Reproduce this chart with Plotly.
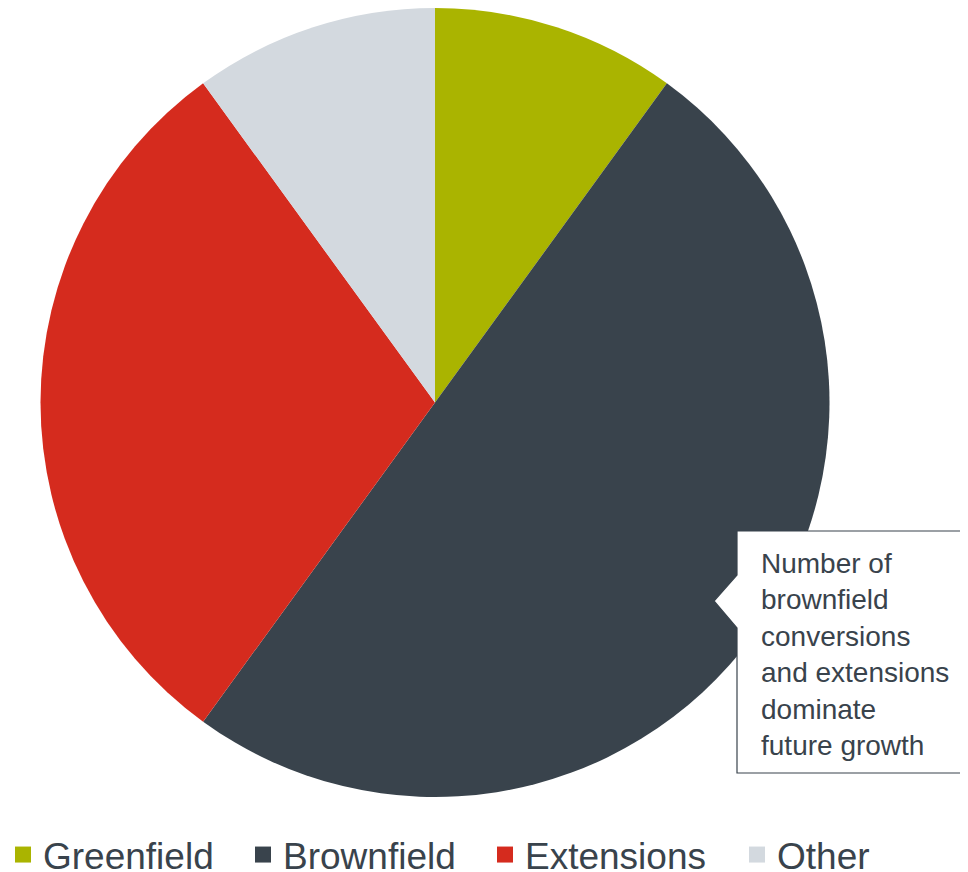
import plotly.graph_objects as go

categories = ["Greenfield", "Brownfield", "Extensions", "Other"]
shares = [10, 50, 30, 10]
colors = ["#AAB400", "#39434C", "#D52B1E", "#D3D9DF"]
note_lines = ["Number of", "brownfield", "conversions", "and extensions", "dominate", "future growth"]

# page has an 8px body margin; figure is sized to fill the rest of the window
OFF = 8
W, H = 968 - OFF, 872 - OFF
FONT = "Arial, Liberation Sans, sans-serif"
TXT = "#39434C"

def px(x):  # page pixel -> paper fraction
    return (x - OFF) / W
def py(y):
    return 1 - (y - OFF) / H

fig = go.Figure()
fig.add_trace(go.Pie(
    labels=categories,
    values=shares,
    sort=False,
    direction="clockwise",
    rotation=0,
    textinfo="none",
    hoverinfo="label+percent",
    showlegend=False,
    marker=dict(colors=colors, line=dict(width=0)),
    domain=dict(x=[px(40), px(830)], y=[py(797), py(8)]),
))

# legend entries (square swatches), one legend box per entry
legend_x = [3, 243, 485, 737]
legends = {}
for i, (cat, col) in enumerate(zip(categories, colors)):
    key = "legend" if i == 0 else f"legend{i + 1}"
    fig.add_trace(go.Scatter(
        x=[None], y=[None], mode="markers", name=cat, legend=key,
        marker=dict(symbol="square", size=16, color=col),
        hoverinfo="skip",
    ))
    legends[key] = dict(
        orientation="h", x=px(legend_x[i]), y=py(855),
        xanchor="left", yanchor="middle",
        font=dict(family=FONT, size=37, color=TXT),
        bgcolor="rgba(0,0,0,0)", borderwidth=0,
    )

# callout box with pointer
path = (f"M {px(737)},{py(531)} L {px(990)},{py(531)} L {px(990)},{py(773)} "
        f"L {px(737)},{py(773)} L {px(737)},{py(628)} L {px(714)},{py(601)} "
        f"L {px(737)},{py(575)} Z")
fig.add_shape(type="path", path=path, xref="paper", yref="paper",
              fillcolor="white", line=dict(color=TXT, width=1.2))

fig.add_annotation(
    x=px(759), y=py(546), xref="paper", yref="paper",
    xanchor="left", yanchor="top", align="left", showarrow=False,
    text="<br>".join(note_lines),
    font=dict(family=FONT, size=28, color=TXT),
)

fig.update_layout(
    width=W, height=H,
    margin=dict(l=0, r=0, t=0, b=0, autoexpand=False),
    paper_bgcolor="white", plot_bgcolor="white",
    showlegend=True,
    xaxis=dict(visible=False),
    yaxis=dict(visible=False),
    **legends,
)

fig.write_html("out.html")
